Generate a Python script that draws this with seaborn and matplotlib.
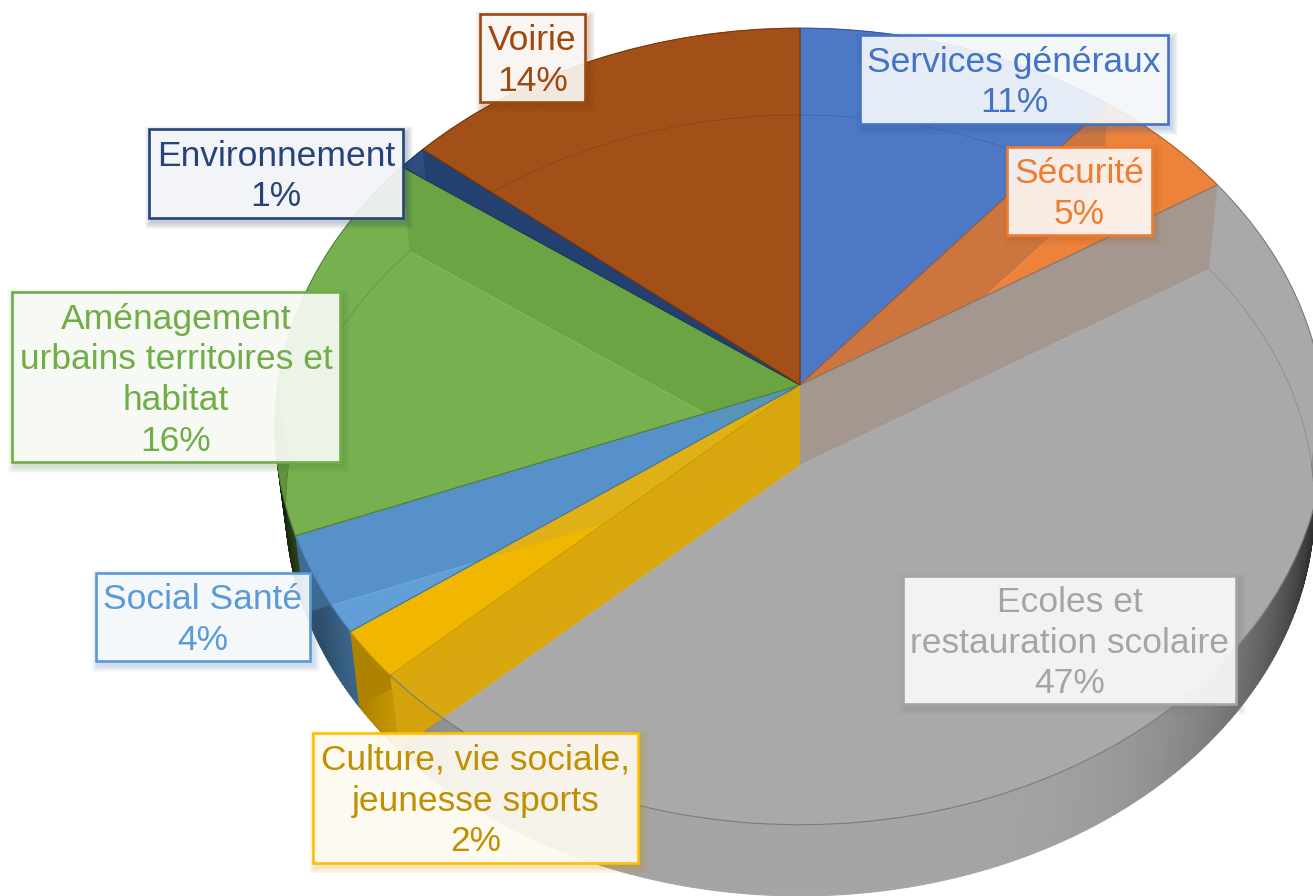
import matplotlib
matplotlib.use("Agg")
import matplotlib.pyplot as plt
import numpy as np
import seaborn as sns
from matplotlib.collections import PolyCollection
from matplotlib.patches import Rectangle
from matplotlib.transforms import Transform

categories = [
    "Services généraux",
    "Sécurité",
    "Ecoles et\nrestauration scolaire",
    "Culture, vie sociale,\njeunesse sports",
    "Social Santé",
    "Aménagement\nurbains territoires et\nhabitat",
    "Environnement",
    "Voirie",
]
shares = [11, 5, 47, 2, 4, 16, 1, 14]

slice_colors = ["#4472C4", "#ED7D31", "#A5A5A5", "#FFC000", "#5B9BD5", "#70AD47", "#264478", "#9E480E"]
text_colors = ["#4472C4", "#ED7D31", "#A5A5A5", "#BF9000", "#5B9BD5", "#70AD47", "#264478", "#9E480E"]

# label boxes in pixels: left, top, right, bottom
label_boxes = [
    (860, 35, 1168, 124),
    (1007, 147, 1152, 235),
    (903, 576, 1236, 704),
    (313, 733, 638, 863),
    (96, 573, 310, 661),
    (12, 292, 340, 462),
    (149, 129, 403, 218),
    (480, 14, 585, 102),
]

CENTER_X = 800
TOP_Y = 385
BOTTOM_Y = 465
RADIUS_X = 522
RADIUS_Y = 394
TILT = 0.104
BOTTOM_SCALE = 0.98
TOP_ALPHA = 0.84
LINE_HEIGHT = 40.7
# navy goes before green, the green wall hides it in the original
WALL_ORDER = [6, 7, 0, 1, 2, 3, 4, 5]


class PieProjection(Transform):
    # perspective view of the flat unit pie, result is in pixels of the picture
    input_dims = 2
    output_dims = 2
    is_separable = False

    def __init__(self, center_y, scale=1.0):
        super().__init__()
        self.center_y = center_y
        self.scale = scale

    def transform_non_affine(self, values):
        values = np.asarray(values, dtype=float)
        depth = 1 + TILT * values[:, 1]
        x = CENTER_X + self.scale * RADIUS_X * values[:, 0] / depth
        y = self.center_y - self.scale * RADIUS_Y * values[:, 1] / depth
        return np.column_stack([x, y])


def shaded(color, factor):
    return tuple(np.clip(np.array(matplotlib.colors.to_rgb(color)) * factor, 0, 1))


def mixed(color, amount):
    rgb = np.array(matplotlib.colors.to_rgb(color))
    return tuple(rgb * amount + (1 - amount))


def rim(proj, angles):
    return proj.transform_non_affine(np.column_stack([np.sin(angles), np.cos(angles)]))


sns.set_theme(style="white")
plt.rcParams["font.family"] = ["Liberation Sans", "DejaVu Sans"]

palette = sns.color_palette(slice_colors)
fig, ax = plt.subplots(figsize=(13.13, 8.96), dpi=100)
fig.subplots_adjust(0, 0, 1, 1)

top_proj = PieProjection(TOP_Y)
bottom_proj = PieProjection(BOTTOM_Y, BOTTOM_SCALE)

bottom_colors = [mixed(c, 0.72) for c in palette]
bottom_wedges, _ = ax.pie(shares, colors=bottom_colors, startangle=90, counterclock=False)
for wedge in bottom_wedges:
    wedge.set_transform(bottom_proj + ax.transData)
    wedge.set_zorder(1)

edges = np.cumsum([0] + shares) / 100 * 2 * np.pi

# back walls show through the top face, front walls stick out below it
back_polys, back_colors, front_polys, front_colors = [], [], [], []
for i, color in enumerate(palette):
    angles = np.linspace(edges[i], edges[i + 1], max(4, shares[i] * 6) + 1)
    top_rim = rim(top_proj, angles)
    bottom_rim = rim(bottom_proj, angles)
    for j in range(len(angles) - 1):
        quad = [top_rim[j], top_rim[j + 1], bottom_rim[j + 1], bottom_rim[j]]
        mid = (angles[j] + angles[j + 1]) / 2
        if np.cos(mid) > 0:
            back_polys.append(quad)
            back_colors.append(bottom_colors[i])
        else:
            front_polys.append(quad)
            front_colors.append(shaded(color, 1 - 0.83 * abs(np.sin(mid)) ** 4.2))

ax.add_collection(PolyCollection(back_polys, facecolors=back_colors, edgecolors=back_colors, linewidths=0.3, zorder=2))
ax.add_collection(PolyCollection(front_polys, facecolors=front_colors, edgecolors=front_colors, linewidths=0.7, zorder=2.5))

# radial walls, each one has the colour of the slice that ends there
top_apex = top_proj.transform_non_affine(np.array([[0.0, 0.0]]))[0]
bottom_apex = bottom_proj.transform_non_affine(np.array([[0.0, 0.0]]))[0]
for i in WALL_ORDER:
    end = np.array([edges[i + 1]])
    quad = [top_apex, rim(top_proj, end)[0], rim(bottom_proj, end)[0], bottom_apex]
    ax.fill(*zip(*quad), color=shaded(palette[i], 0.68), lw=0, zorder=3)

top_wedges, _ = ax.pie(shares, colors=palette, startangle=90, counterclock=False)
for wedge, color in zip(top_wedges, palette):
    wedge.set_transform(top_proj + ax.transData)
    wedge.set_zorder(4)
    wedge.set_facecolor((*color, TOP_ALPHA))
    wedge.set_edgecolor(shaded(color, 0.75))
    wedge.set_linewidth(0.8)

# faint arc of the bottom face, only inside the slice it belongs to
for i, color in enumerate(palette):
    angles = np.linspace(edges[i], edges[i + 1], max(4, shares[i] * 6) + 1)
    bottom_rim = rim(bottom_proj, angles)
    back = np.cos(angles) > -0.1
    arc, = ax.plot(bottom_rim[back, 0], bottom_rim[back, 1], color=shaded(color, 0.7), lw=0.8, alpha=0.45, zorder=4.5)
    arc.set_clip_path(top_wedges[i])

# the yellow wall is painted over the grey top in the original
yellow_end = np.array([edges[3]])
quad = [top_apex, rim(top_proj, yellow_end)[0], rim(bottom_proj, yellow_end)[0], bottom_apex]
ax.fill(*zip(*quad), color=shaded(palette[3], 0.88), alpha=0.9, lw=0, zorder=6)
grey_end = rim(top_proj, np.linspace(edges[3] - 0.3, edges[3], 20))
ax.plot(grey_end[:, 0], grey_end[:, 1], color="#808080", lw=0.9, zorder=6.5)

for name, share, box, color, text_color in zip(categories, shares, label_boxes, palette, text_colors):
    left, top, right, bottom = box
    width, height = right - left, bottom - top
    for k in range(7):
        grow = 7 - k
        ax.add_patch(Rectangle((left + 3 - grow, top + 4 - grow), width + 2 * grow, height + 2 * grow,
                               facecolor=shaded(color, 0.8), edgecolor="none", alpha=0.04, zorder=7))
    ax.add_patch(Rectangle((left, top), width, height, facecolor=(*mixed(color, 0.03), 0.9),
                           edgecolor=color, linewidth=1.9, zorder=8))
    lines = name.split("\n") + [f"{share}%"]
    first = (top + bottom) / 2 - len(lines) * LINE_HEIGHT / 2
    for n, line in enumerate(lines):
        ax.text((left + right) / 2, first + (n + 0.81) * LINE_HEIGHT, line, ha="center", va="baseline",
                fontsize=25.5, color=text_color, zorder=9)

ax.set_aspect("auto")
ax.set_xlim(0, 1313)
ax.set_ylim(896, 0)
ax.set_axis_off()

fig.savefig("out.png", dpi=100)
